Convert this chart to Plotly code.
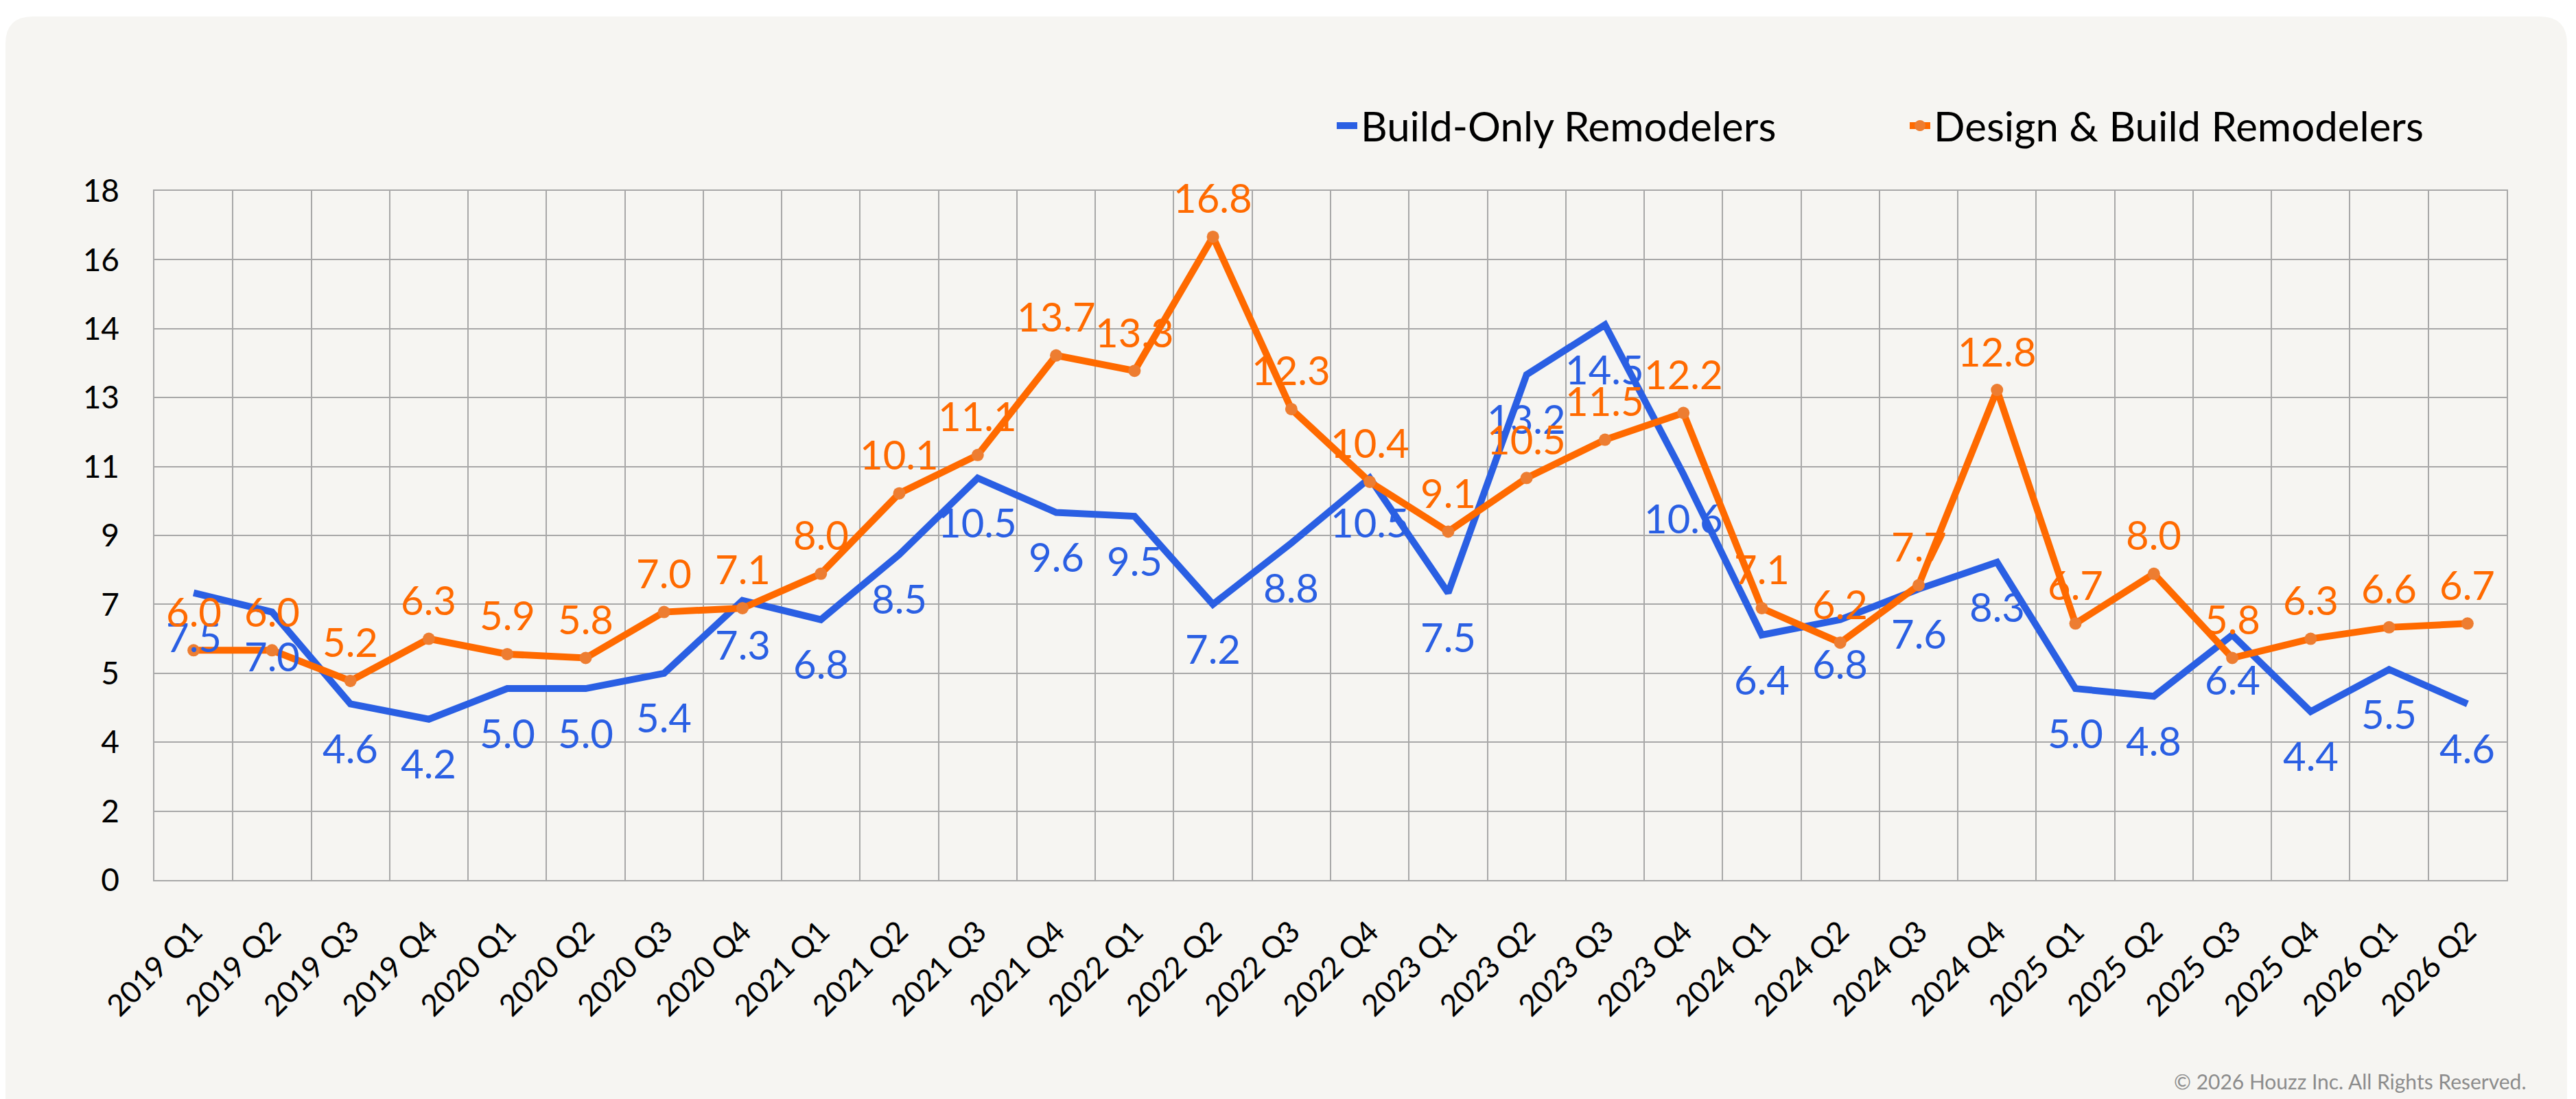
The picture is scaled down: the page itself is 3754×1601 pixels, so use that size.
import plotly.graph_objects as go

QUARTERS = ["2019 Q1", "2019 Q2", "2019 Q3", "2019 Q4",
            "2020 Q1", "2020 Q2", "2020 Q3", "2020 Q4",
            "2021 Q1", "2021 Q2", "2021 Q3", "2021 Q4",
            "2022 Q1", "2022 Q2", "2022 Q3", "2022 Q4",
            "2023 Q1", "2023 Q2", "2023 Q3", "2023 Q4",
            "2024 Q1", "2024 Q2", "2024 Q3", "2024 Q4",
            "2025 Q1", "2025 Q2", "2025 Q3", "2025 Q4",
            "2026 Q1", "2026 Q2"]
BUILD_ONLY = [7.5, 7.0, 4.6, 4.2, 5.0, 5.0, 5.4, 7.3, 6.8, 8.5,
              10.5, 9.6, 9.5, 7.2, 8.8, 10.5, 7.5, 13.2, 14.5, 10.6,
              6.4, 6.8, 7.6, 8.3, 5.0, 4.8, 6.4, 4.4, 5.5, 4.6]
DESIGN_BUILD = [6.0, 6.0, 5.2, 6.3, 5.9, 5.8, 7.0, 7.1, 8.0, 10.1,
                11.1, 13.7, 13.3, 16.8, 12.3, 10.4, 9.1, 10.5, 11.5, 12.2,
                7.1, 6.2, 7.7, 12.8, 6.7, 8.0, 5.8, 6.3, 6.6, 6.7]
Y_TICK_VALS = [0, 1.8, 3.6, 5.4, 7.2, 9.0, 10.8, 12.6, 14.4, 16.2, 18.0]
Y_TICK_TEXT = ["0", "2", "4", "5", "7", "9", "11", "13", "14", "16", "18"]
SERIES_NAMES = ["Build-Only Remodelers", "Design & Build Remodelers"]
COPYRIGHT = "© 2026 Houzz Inc. All Rights Reserved."

W, H = 3754, 1601
ML, MR, MT, MB = 225, 101, 278, 319
PW = W - ML - MR
PH = H - MT - MB

BLUE = "#2a5fe3"
ORANGE = "#ff6a00"
ORANGE_MK = "#ed7d31"
GRID = "#a8a8a8"
BG = "#f6f5f2"
FONT = "Lato"


def pxx(px):
    return (px - ML) / PW


def pxy(py):
    return (H - MB - py) / PH


fig = go.Figure()
fig.add_trace(go.Scatter(
    x=QUARTERS, y=BUILD_ONLY, name=SERIES_NAMES[0], mode="lines",
    line=dict(color=BLUE, width=10),
))
fig.add_trace(go.Scatter(
    x=QUARTERS, y=DESIGN_BUILD, name=SERIES_NAMES[1], mode="lines+markers",
    line=dict(color=ORANGE, width=10),
    marker=dict(color=ORANGE_MK, size=18, line=dict(width=0)),
))

annotations = []
for q, v in zip(QUARTERS, BUILD_ONLY):
    annotations.append(dict(x=q, y=v, text=f"{v:.1f}", showarrow=False,
                            yshift=-64, yanchor="middle", xanchor="center",
                            font=dict(family=FONT, size=58, color=BLUE)))
for q, v in zip(QUARTERS, DESIGN_BUILD):
    annotations.append(dict(x=q, y=v, text=f"{v:.1f}", showarrow=False,
                            yshift=57, yanchor="middle", xanchor="center",
                            font=dict(family=FONT, size=58, color=ORANGE)))
annotations.append(dict(xref="paper", yref="paper", x=pxx(3684), y=pxy(1575),
                        xanchor="right", yanchor="middle", showarrow=False,
                        text=COPYRIGHT,
                        font=dict(family=FONT, size=30, color="#8c8c8c")))

# rounded background panel
x0, x1, y0, yb, r = 8, 3741, 24, 1660, 40
pts = [
    ("M", [(x0 + r, y0)]),
    ("L", [(x1 - r, y0)]),
    ("Q", [(x1, y0), (x1, y0 + r)]),
    ("L", [(x1, yb)]),
    ("L", [(x0, yb)]),
    ("L", [(x0, y0 + r)]),
    ("Q", [(x0, y0), (x0 + r, y0)]),
]
path = ""
for cmd, ps in pts:
    path += cmd + " " + " ".join(f"{pxx(a):.6f},{pxy(b):.6f}" for a, b in ps) + " "
path += "Z"

fig.update_layout(
    width=W, height=H, autosize=False,
    margin=dict(l=ML, r=MR, t=MT, b=MB, pad=0),
    paper_bgcolor="white", plot_bgcolor="rgba(0,0,0,0)",
    font=dict(family=FONT, color="black"),
    shapes=[dict(type="path", xref="paper", yref="paper", path=path,
                 fillcolor=BG, line=dict(width=0), layer="below")],
    annotations=annotations,
    showlegend=True,
    legend=dict(orientation="h", x=pxx(1943), y=pxy(183), xanchor="left",
                yanchor="middle", font=dict(family=FONT, size=60, color="black"),
                bgcolor="rgba(0,0,0,0)", entrywidth=790, entrywidthmode="pixels",
                traceorder="normal"),
    xaxis=dict(type="category", tickson="boundaries", showgrid=True,
               gridcolor=GRID, gridwidth=1.5, showline=True, linecolor=GRID,
               linewidth=1.5, mirror=True, ticks="", tickangle=-45,
               tickfont=dict(family=FONT, size=44, color="black"),
               ticklabelstandoff=30, range=[-0.5, len(QUARTERS) - 0.5],
               zeroline=False),
    yaxis=dict(range=[0, 18], tickvals=Y_TICK_VALS, ticktext=Y_TICK_TEXT,
               showgrid=True, gridcolor=GRID, gridwidth=1.5, showline=True,
               linecolor=GRID, linewidth=1.5, mirror=True, ticks="",
               tickfont=dict(family=FONT, size=46, color="black"),
               ticklabelstandoff=40, zeroline=False),
)

fig.write_html("out.html", config={"displayModeBar": False},
               post_script="document.body.style.margin='0';")
